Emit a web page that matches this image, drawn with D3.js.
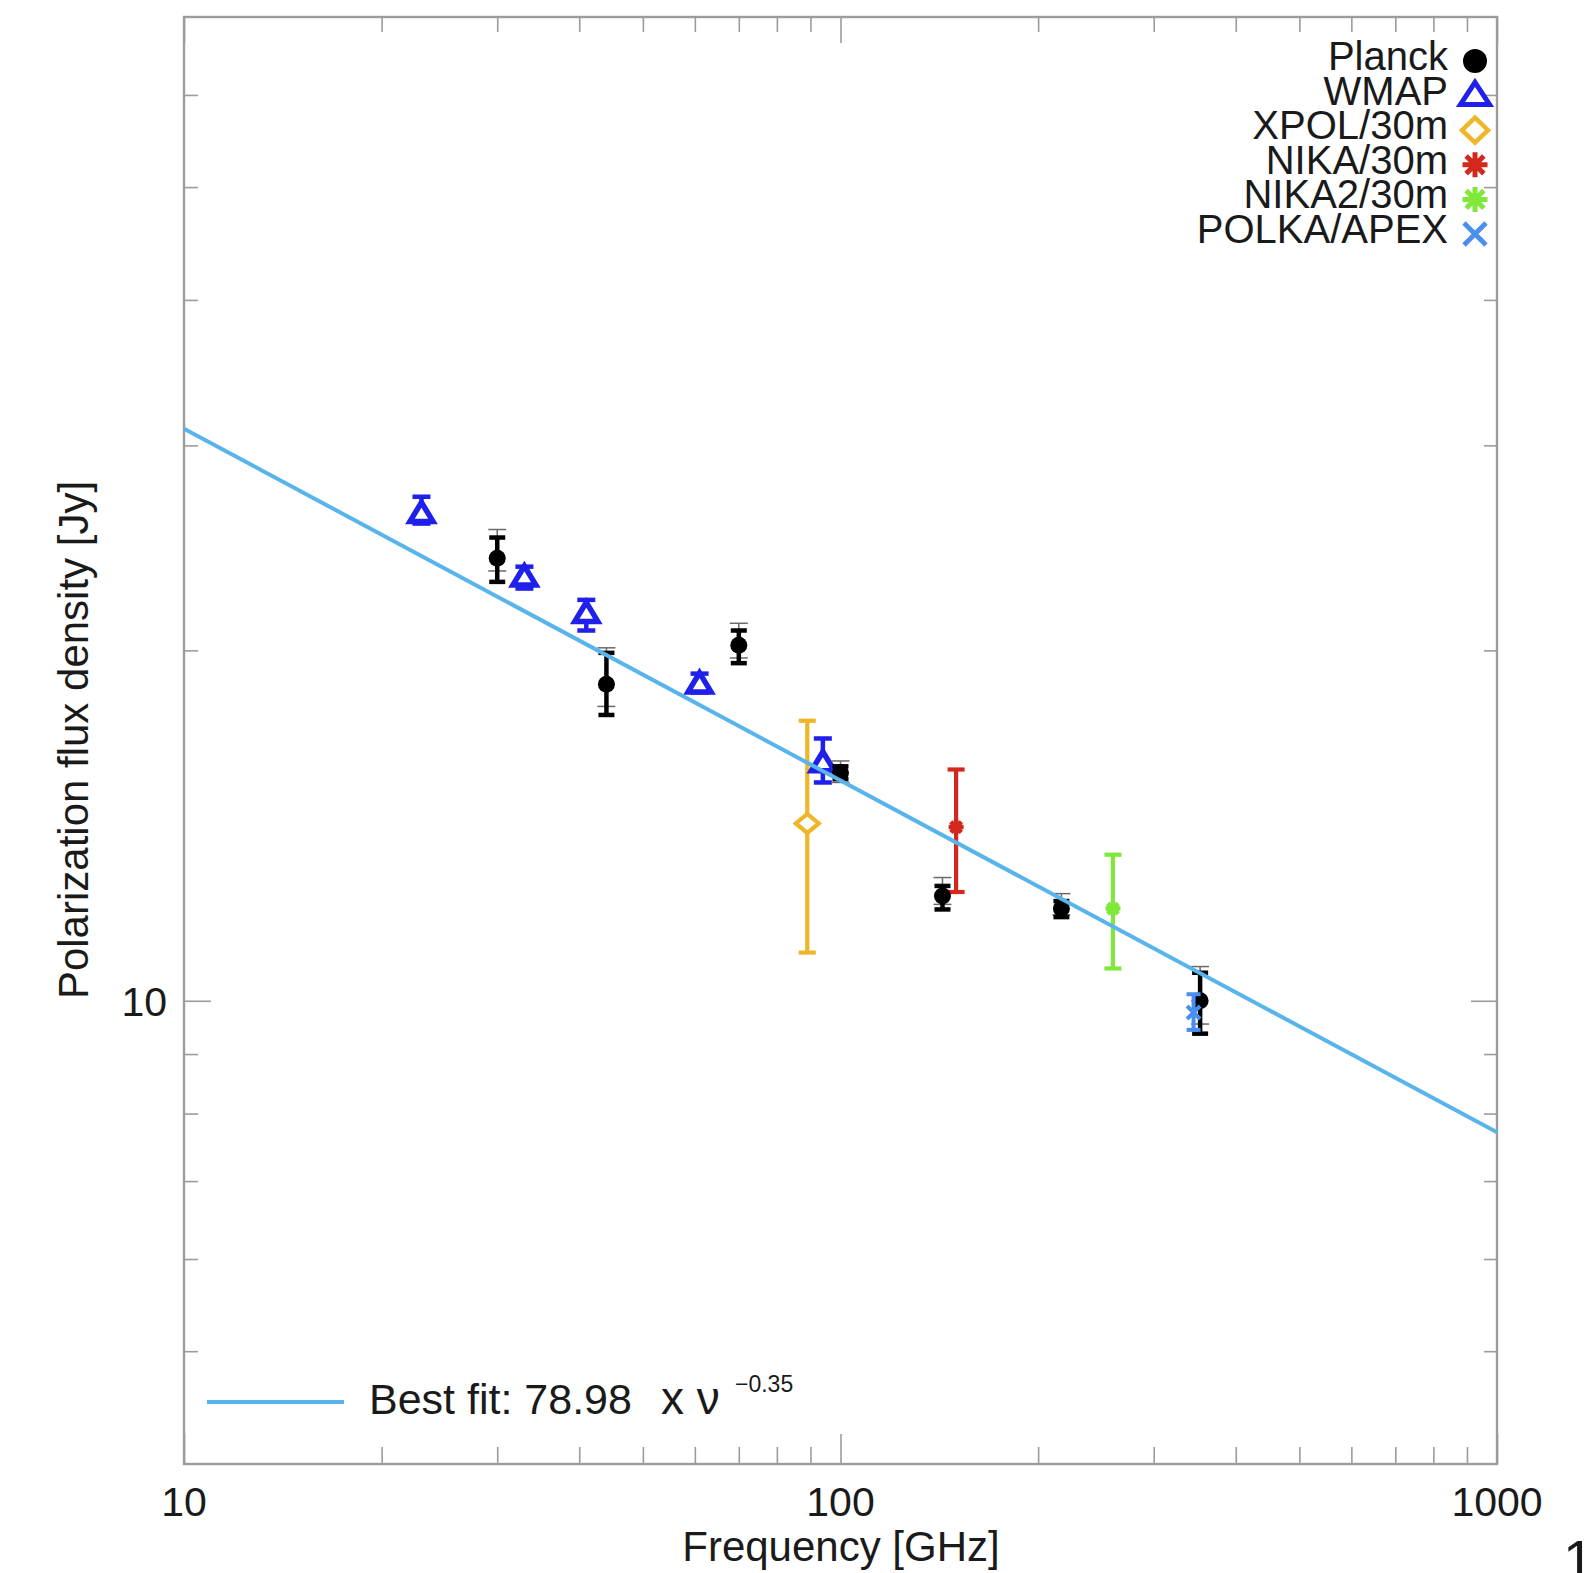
<!DOCTYPE html>
<html>
<head>
<meta charset="utf-8">
<script src="https://cdn.jsdelivr.net/npm/d3@7"></script>
<style>
  html, body { margin: 0; padding: 0; background: #ffffff; }
  svg { display: block; }
  text { font-family: "Liberation Sans", Arial, Helvetica, sans-serif; fill: #1a1a1a; }
</style>
</head>
<body>
<svg id="chart" width="1584" height="1573"></svg>
<script>
// ---- Axis ticks ----
const xMajorTicks = [10, 100, 1000];
const xMinorTicks = [20, 30, 40, 50, 60, 70, 80, 90, 200, 300, 400, 500, 600, 700, 800, 900];
const yMajorTicks = [10];
const yMinorTicks = [5, 6, 7, 8, 9, 20, 30, 40, 50, 60];

// ---- Planck (thick = statistical, thin = total) ----
const planckFreq  = [30, 44, 70, 100, 143, 217, 353];
const planckFlux  = [24.0, 18.7, 20.2, 15.7, 12.3, 12.0, 10.0];
const planckLo    = [22.9, 17.6, 19.5, 15.5, 11.98, 11.8, 9.37];
const planckHi    = [25.0, 19.9, 20.8, 15.9, 12.55, 12.18, 10.57];
const planckThinLo = [23.4, 17.9, 19.7, 15.4, 12.1, 11.85, 9.55];
const planckThinHi = [25.4, 20.1, 21.1, 16.07, 12.76, 12.36, 10.7];

// ---- WMAP ----
const wmapFreq = [23, 33, 41, 61, 94];
const wmapFlux = [26.2, 23.1, 21.5, 18.7, 16.0];
const wmapLo   = [25.7, 22.6, 20.8, 18.4, 15.4];
const wmapHi   = [27.1, 23.6, 22.1, 19.1, 16.8];

// ---- Ground-based instruments ----
const xpolFreq = [89];   const xpolFlux = [14.2];  const xpolLo = [11.0];  const xpolHi = [17.4];
const nikaFreq = [150];  const nikaFlux = [14.1];  const nikaLo = [12.4];  const nikaHi = [15.8];
const nika2Freq = [260]; const nika2Flux = [12.0]; const nika2Lo = [10.66]; const nika2Hi = [13.35];
const polkaFreq = [345]; const polkaFlux = [9.77]; const polkaLo = [9.44]; const polkaHi = [10.13];

// ---- Power-law fit line (end points) ----
const fitFreq = [10, 1000];
const fitFlux = [31.0, 7.71];
const fitAmplitude = "78.98";
const fitIndex = "\u22120.35";

// ---- Legend ----
const legendNames = ["Planck", "WMAP", "XPOL/30m", "NIKA/30m", "NIKA2/30m", "POLKA/APEX"];

const COLORS = {
  planck: "#000000",
  wmap: "#2020ec",
  xpol: "#efb62a",
  nika: "#d2281d",
  nika2: "#7fe83a",
  polka: "#4a8ef0",
  fit: "#5ab4ec",
  axis: "#9c9c9c"
};

const svg = d3.select("#chart");
const W = 1584, H = 1573;
const plot = { left: 184, right: 1497, top: 17, bottom: 1464 };

svg.append("rect").attr("width", W).attr("height", H).attr("fill", "#ffffff");

const x = d3.scaleLog().domain([10, 1000]).range([plot.left, plot.right]);
const y = d3.scaleLog().domain([4, 70]).range([plot.bottom, plot.top]);

// ---- Ticks (all pointing inward) ----
function tickAxis(axisFn, scale, values, size, transform) {
  const g = svg.append("g").attr("transform", transform)
    .call(axisFn(scale).tickValues(values).tickSizeInner(-size).tickSizeOuter(0).tickFormat(""));
  g.select(".domain").remove();
  g.selectAll(".tick line").attr("stroke", COLORS.axis).attr("stroke-width", 1.6);
  return g;
}
tickAxis(d3.axisBottom, x, xMinorTicks, 17, `translate(0,${plot.bottom})`);
tickAxis(d3.axisBottom, x, xMajorTicks, 30, `translate(0,${plot.bottom})`);
tickAxis(d3.axisTop, x, xMinorTicks, 15, `translate(0,${plot.top})`);
tickAxis(d3.axisTop, x, xMajorTicks, 26, `translate(0,${plot.top})`);
tickAxis(d3.axisLeft, y, yMinorTicks, 14, `translate(${plot.left},0)`);
tickAxis(d3.axisLeft, y, yMajorTicks, 27, `translate(${plot.left},0)`);
tickAxis(d3.axisRight, y, yMinorTicks, 13, `translate(${plot.right},0)`);
tickAxis(d3.axisRight, y, yMajorTicks, 26, `translate(${plot.right},0)`);

// frame
svg.append("rect")
  .attr("x", plot.left).attr("y", plot.top)
  .attr("width", plot.right - plot.left).attr("height", plot.bottom - plot.top)
  .attr("fill", "none").attr("stroke", COLORS.axis).attr("stroke-width", 2.4);

// tick labels
svg.append("g").selectAll("text").data(xMajorTicks).join("text")
  .attr("x", d => x(d)).attr("y", plot.bottom + 52)
  .attr("text-anchor", "middle").attr("font-size", 41)
  .text(d => d3.format("d")(d));
svg.append("g").selectAll("text").data(yMajorTicks).join("text")
  .attr("x", plot.left - 17).attr("y", d => y(d) + 15)
  .attr("text-anchor", "end").attr("font-size", 41)
  .text(d => d3.format("d")(d));

// axis titles
svg.append("text").attr("x", 841).attr("y", 1561)
  .attr("text-anchor", "middle").attr("font-size", 42)
  .text("Frequency [GHz]");
svg.append("text").attr("transform", "translate(88,740) rotate(-90)")
  .attr("text-anchor", "middle").attr("font-size", 42)
  .text("Polarization flux density [Jy]");

// stray glyph at the page edge
svg.append("text").attr("x", 1563).attr("y", 1579).attr("font-size", 56).text("1");

// ---- marker shapes ----
function triPath(w, h) {
  return `M0,${-h * 0.6}L${w / 2},${h * 0.4}L${-w / 2},${h * 0.4}Z`;
}
function diamondPath(w, h) {
  return `M0,${-h / 2}L${w / 2},0L0,${h / 2}L${-w / 2},0Z`;
}
function starPath(r) {
  const d = r * Math.SQRT1_2;
  return `M${-r},0L${r},0M0,${-r}L0,${r}M${-d},${-d}L${d},${d}M${-d},${d}L${d},${-d}`;
}
function crossPath(r) {
  return `M${-r},${-r}L${r},${r}M${-r},${r}L${r},${-r}`;
}

function drawMarker(g, kind, cx, cy, big) {
  const s = g.append("g").attr("transform", `translate(${cx},${cy})`);
  if (kind === "planck") {
    s.append("circle").attr("r", big ? 12 : 8.5).attr("fill", COLORS.planck);
  } else if (kind === "wmap") {
    s.append("path").attr("d", big ? triPath(29, 22) : triPath(23, 19))
      .attr("fill", "#ffffff").attr("stroke", COLORS.wmap)
      .attr("stroke-width", big ? 5 : 5.5).attr("stroke-linejoin", "miter");
  } else if (kind === "xpol") {
    s.append("path").attr("d", big ? diamondPath(26, 25) : diamondPath(23, 19))
      .attr("fill", "#ffffff").attr("stroke", COLORS.xpol)
      .attr("stroke-width", big ? 4.5 : 4.2);
  } else if (kind === "nika" || kind === "nika2") {
    s.append("path").attr("d", starPath(big ? 12.5 : 7.5))
      .attr("fill", "none").attr("stroke", COLORS[kind]).attr("stroke-width", big ? 5 : 4.5);
  } else if (kind === "polka") {
    s.append("path").attr("d", crossPath(big ? 11 : 6.5))
      .attr("fill", "none").attr("stroke", COLORS.polka).attr("stroke-width", big ? 4.8 : 4);
  }
}

function errorBar(g, cx, lo, hi, color, width, cap) {
  const eb = g.append("g").attr("stroke", color).attr("stroke-width", width).attr("fill", "none");
  eb.append("line").attr("x1", cx).attr("x2", cx).attr("y1", y(lo)).attr("y2", y(hi));
  eb.append("line").attr("x1", cx - cap / 2).attr("x2", cx + cap / 2).attr("y1", y(lo)).attr("y2", y(lo));
  eb.append("line").attr("x1", cx - cap / 2).attr("x2", cx + cap / 2).attr("y1", y(hi)).attr("y2", y(hi));
}

const series = [
  { kind: "xpol",  freq: xpolFreq,  flux: xpolFlux,  lo: xpolLo,  hi: xpolHi,  ew: 4.2, cap: 17 },
  { kind: "nika",  freq: nikaFreq,  flux: nikaFlux,  lo: nikaLo,  hi: nikaHi,  ew: 4.2, cap: 17 },
  { kind: "nika2", freq: nika2Freq, flux: nika2Flux, lo: nika2Lo, hi: nika2Hi, ew: 4.2, cap: 17 },
  { kind: "wmap",  freq: wmapFreq,  flux: wmapFlux,  lo: wmapLo,  hi: wmapHi,  ew: 4.5, cap: 18 },
  { kind: "planck", freq: planckFreq, flux: planckFlux, lo: planckLo, hi: planckHi, ew: 4.5, cap: 16,
    thinLo: planckThinLo, thinHi: planckThinHi },
  { kind: "polka", freq: polkaFreq, flux: polkaFlux, lo: polkaLo, hi: polkaHi, ew: 4, cap: 14 }
];

const marks = svg.append("g");
series.forEach(s => {
  const g = marks.append("g").attr("class", s.kind);
  s.freq.forEach((f, i) => {
    const cx = x(f);
    if (s.thinLo) errorBar(g, cx, s.thinLo[i], s.thinHi[i], "#6a6a6a", 1.5, 18);
    errorBar(g, cx, s.lo[i], s.hi[i], COLORS[s.kind], s.ew, s.cap);
    drawMarker(g, s.kind, cx, y(s.flux[i]), false);
  });
});

// ---- fit line ----
const fitLine = d3.line().x((d, i) => x(fitFreq[i])).y(d => y(d));
svg.append("path").datum(fitFlux)
  .attr("d", fitLine)
  .attr("fill", "none").attr("stroke", COLORS.fit).attr("stroke-width", 4);

// ---- instrument legend (top right) ----
const legendKinds = ["planck", "wmap", "xpol", "nika", "nika2", "polka"];
const legend = svg.append("g");
legendNames.forEach((name, i) => {
  const cy = 61 + i * 34.6;
  legend.append("text").attr("x", 1448).attr("y", cy + 9)
    .attr("text-anchor", "end").attr("font-size", 40).text(name);
  drawMarker(legend, legendKinds[i], 1475, cy, true);
});

// ---- fit legend (bottom left) ----
svg.append("line").attr("x1", 207).attr("x2", 344).attr("y1", 1402).attr("y2", 1402)
  .attr("stroke", COLORS.fit).attr("stroke-width", 4);
svg.append("text").attr("x", 369).attr("y", 1414).attr("font-size", 43)
  .text("Best fit: " + fitAmplitude);
svg.append("text").attr("x", 661).attr("y", 1414).attr("font-size", 46).text("x \u03BD");
svg.append("text").attr("x", 735).attr("y", 1392).attr("font-size", 23).text(fitIndex);
</script>
</body>
</html>
